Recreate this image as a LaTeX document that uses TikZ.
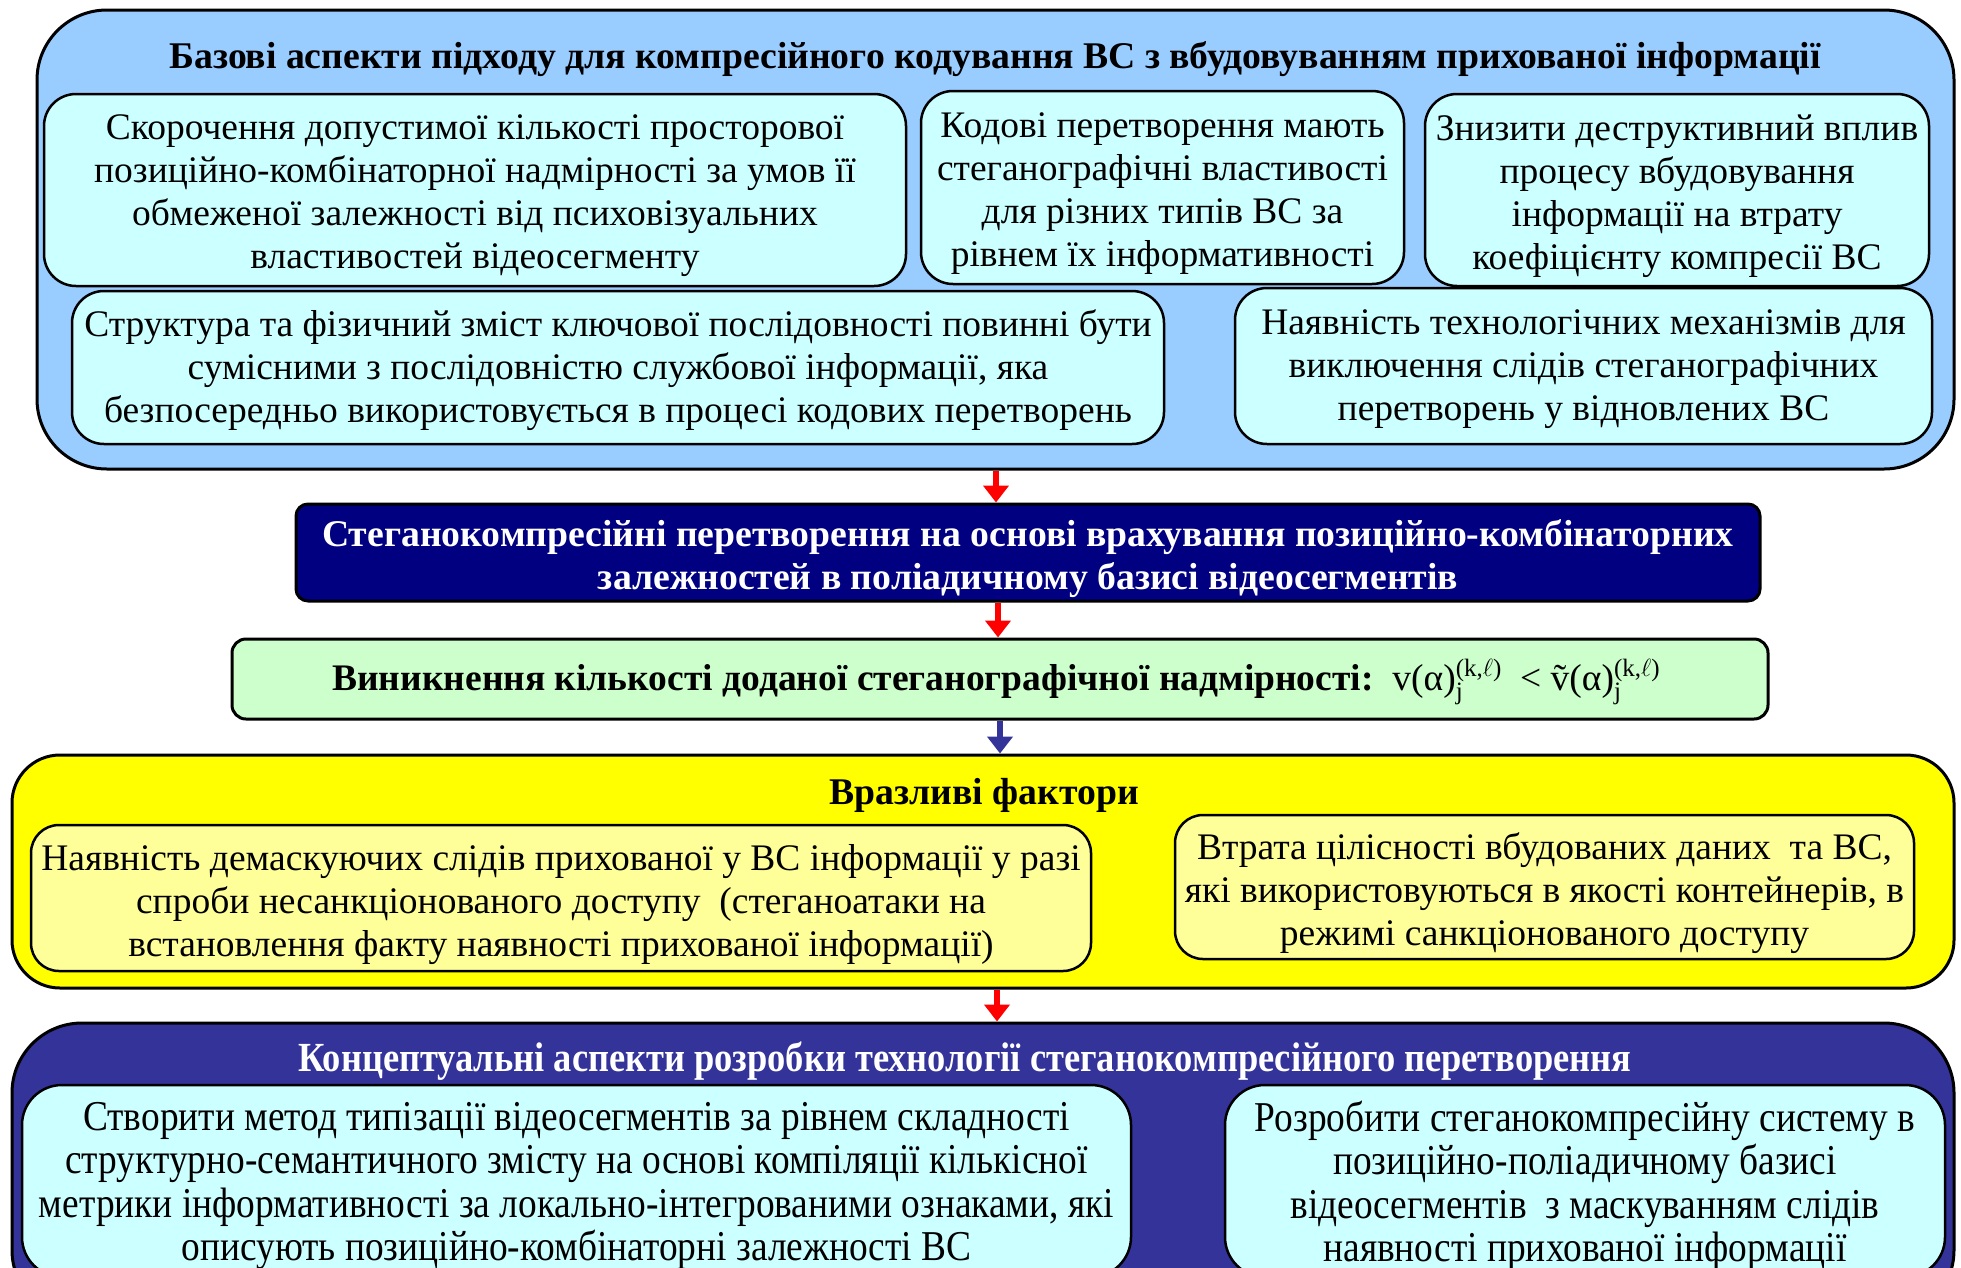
\documentclass[tikz,border=0pt]{standalone}
\usepackage{fontspec}
\setmainfont{Liberation Serif}
\newfontfamily\condfont{Liberation Serif}[FakeStretch=0.88]
\newcommand\supsubx[2]{\begingroup\fontsize{25}{25}\selectfont\rlap{\raisebox{-0.34em}{#2}}\raisebox{0.56em}{#1}\endgroup}
\newcommand\tildev{\ooalign{v\cr\hidewidth\char"02DC\hidewidth\cr}}
\usetikzlibrary{arrows.meta}
\definecolor{topblue}{HTML}{99CCFF}
\definecolor{cyanfill}{HTML}{CCFFFF}
\definecolor{navymid}{HTML}{000080}
\definecolor{greenfill}{HTML}{CCFFCC}
\definecolor{bluearrow}{HTML}{333399}
\definecolor{yellowfill}{HTML}{FFFF00}
\definecolor{lightyellow}{HTML}{FFFF99}
\definecolor{navylow}{HTML}{333399}
\definecolor{redarrow}{HTML}{FF0000}
\tikzset{
  outerbox/.style={draw=black, line width=3pt, rounded corners=70pt, inner sep=0pt},
  innerbox/.style={draw=black, line width=2.5pt, rounded corners=32pt, inner sep=0pt},
  condbox/.style={draw=black, line width=2.5pt, rounded corners=40pt, inner sep=0pt},
  bodytext/.style={inner sep=0pt, align=center, font=\fontsize{37.5}{43}\selectfont},
  condtext/.style={inner sep=0pt, align=center, font=\condfont\fontsize{42.5}{43.5}\selectfont},
  titletext/.style={inner sep=0pt, align=center, font=\bfseries\fontsize{37.7}{43}\selectfont},
  flowarrow/.style={line width=6pt, -{Triangle[width=25pt,length=17pt]}}
}
\begin{document}
\begin{tikzpicture}[x=1pt,y=-1pt]
\useasboundingbox (0,0) rectangle (1961,1267);
\clip (0,0) rectangle (1961,1267);
\fill[white] (0,0) rectangle (1961,1267);

% top section
\node[outerbox, fill=topblue, minimum width=1917pt, minimum height=459pt] (top) at (995.5,239.5) {};
\node[titletext] (toptitle) at (995,59) {Базові аспекти підходу для компресійного кодування ВС з вбудовуванням прихованої інформації};
\node[innerbox, fill=cyanfill, minimum width=862pt, minimum height=192pt] (A) at (475,190) {};
\node[bodytext] (Atext) at (475,196) {Скорочення допустимої кількості просторової\\ позиційно-комбінаторної надмірності за умов її\\ обмеженої залежності від психовізуальних\\ властивостей відеосегменту};
\node[innerbox, fill=cyanfill, minimum width=483pt, minimum height=193pt] (B) at (1162.5,187.5) {};
\node[bodytext] (Btext) at (1162.5,193.5) {Кодові перетворення мають\\ стеганографічні властивості\\ для різних типів ВС за\\ рівнем їх інформативності};
\node[innerbox, fill=cyanfill, minimum width=504pt, minimum height=192pt] (C) at (1677,190) {};
\node[bodytext] (Ctext) at (1677,196) {Знизити деструктивний вплив\\ процесу вбудовування\\ інформації на втрату\\ коефіцієнту компресії ВС};
\node[innerbox, fill=cyanfill, minimum width=1092pt, minimum height=153pt] (D) at (618,367.5) {};
\node[bodytext] (Dtext) at (618,370.5) {Структура та фізичний зміст ключової послідовності повинні бути\\ сумісними з послідовністю службової інформації, яка\\ безпосередньо використовується в процесі кодових перетворень};
\node[innerbox, fill=cyanfill, minimum width=697pt, minimum height=156pt] (E) at (1583.5,366) {};
\node[bodytext] (Etext) at (1583.5,369) {Наявність технологічних механізмів для\\ виключення слідів стеганографічних\\ перетворень у відновлених ВС};

% middle
\node[draw=black, line width=3pt, rounded corners=12pt, fill=navymid, inner sep=0pt,
  minimum width=1464pt, minimum height=97pt] (steg) at (1028,552.5) {};
\node[titletext, text=white] (stegtext) at (1028,558.5) {Стеганокомпресійні перетворення на основі врахування позиційно-комбінаторних\\ залежностей в поліадичному базисі відеосегментів};
\node[draw=black, line width=3pt, rounded corners=14pt, fill=greenfill, inner sep=0pt,
  minimum width=1536pt, minimum height=80pt] (green) at (1000,679) {};
\node[bodytext] (greentext) at (996,682) {\textbf{Виникнення кількості доданої стеганографічної надмірності:}\ \ v(α)\supsubx{(k,$\ell$)}{j}\ \ <\ \tildev(α)\supsubx{(k,$\ell$)}{j}};

% yellow section
\node[outerbox, rounded corners=48pt, fill=yellowfill, minimum width=1942pt, minimum height=233pt] (vuln) at (983,871.5) {};
\node[titletext] (vulntitle) at (984,795) {Вразливі фактори};
\node[innerbox, fill=lightyellow, rounded corners=28pt, minimum width=1060pt, minimum height=146pt] (F) at (561,898) {};
\node[bodytext] (Ftext) at (561,905) {Наявність демаскуючих слідів прихованої у ВС інформації у разі\\ спроби несанкціонованого доступу\ \ (стеганоатаки на\\ встановлення факту наявності прихованої інформації)};
\node[innerbox, fill=lightyellow, rounded corners=28pt, minimum width=739pt, minimum height=144pt] (G) at (1544.5,887) {};
\node[bodytext] (Gtext) at (1544.5,893) {Втрата цілісності вбудованих даних\ \ та ВС,\\ які використовуються в якості контейнерів, в\\ режимі санкціонованого доступу};

% bottom section
\node[outerbox, fill=navylow, minimum width=1942pt, minimum height=297pt] (concept) at (983,1171.5) {};
\node[inner sep=0pt, text=white, font=\condfont\bfseries\fontsize{41.4}{43}\selectfont] (concepttitle) at (965,1061) {Концептуальні аспекти розробки технології стеганокомпресійного перетворення};
\node[condbox, fill=cyanfill, minimum width=1109pt, minimum height=192pt] (H) at (576.5,1181) {};
\node[condtext] (Htext) at (576.5,1186) {Створити метод типізації відеосегментів за рівнем складності\\ структурно-семантичного змісту на основі компіляції кількісної\\ метрики інформативності за локально-інтегрованими ознаками, які\\ описують позиційно-комбінаторні залежності ВС};
\node[condbox, fill=cyanfill, minimum width=720pt, minimum height=192pt] (I) at (1585,1181) {};
\node[condtext] (Itext) at (1585,1186) {Розробити стеганокомпресійну систему в\\ позиційно-поліадичному базисі\\ відеосегментів\ \ з маскуванням слідів\\ наявності прихованої інформації};

% arrows
\coordinate (ax1) at (996,0);
\coordinate (ax2) at (998,0);
\coordinate (ax3) at (1000,0);
\coordinate (ax4) at (997,0);
\draw[flowarrow, draw=redarrow, fill=redarrow] (top.south -| ax1) -- (steg.north -| ax1);
\draw[flowarrow, draw=redarrow, fill=redarrow] (steg.south -| ax2) -- (green.north -| ax2);
\draw[flowarrow, draw=bluearrow, fill=bluearrow] (green.south -| ax3) -- (vuln.north -| ax3);
\draw[flowarrow, draw=redarrow, fill=redarrow] (vuln.south -| ax4) -- (concept.north -| ax4);
\end{tikzpicture}
\end{document}
